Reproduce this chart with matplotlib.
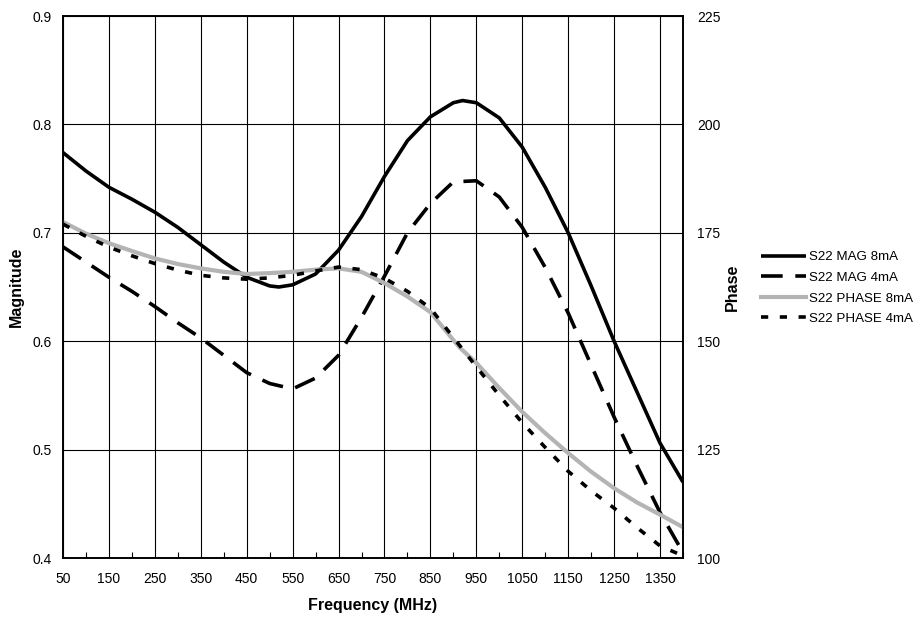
import matplotlib
matplotlib.use("Agg")
import matplotlib.pyplot as plt
from matplotlib.ticker import MultipleLocator

plt.rcParams['font.family'] = ['Liberation Sans', 'DejaVu Sans']

freq_mag8 = [50, 100, 150, 200, 250, 300, 350, 400, 450, 500, 520, 550, 600, 650, 700, 750, 800, 850, 900, 920, 950, 1000, 1050, 1100, 1150, 1200, 1250, 1300, 1350, 1400]
mag8 = [0.774, 0.757, 0.742, 0.731, 0.719, 0.705, 0.689, 0.673, 0.659, 0.651, 0.650, 0.652, 0.662, 0.684, 0.715, 0.752, 0.785, 0.807, 0.820, 0.822, 0.820, 0.806, 0.779, 0.742, 0.700, 0.651, 0.600, 0.553, 0.506, 0.470]

freq_mag4 = [50, 100, 150, 200, 250, 300, 350, 400, 450, 500, 550, 600, 650, 700, 750, 800, 850, 900, 950, 1000, 1050, 1100, 1150, 1200, 1250, 1300, 1350, 1400]
mag4 = [0.687, 0.673, 0.659, 0.646, 0.632, 0.617, 0.603, 0.587, 0.571, 0.561, 0.556, 0.566, 0.587, 0.622, 0.660, 0.700, 0.727, 0.747, 0.748, 0.733, 0.705, 0.668, 0.626, 0.578, 0.530, 0.485, 0.442, 0.405]

freq_ph8 = [50, 100, 150, 200, 250, 300, 350, 400, 450, 500, 550, 600, 650, 700, 750, 800, 850, 913, 950, 1000, 1050, 1100, 1150, 1200, 1250, 1300, 1350, 1400]
phase8 = [177.5, 174.8, 172.6, 170.8, 169.1, 167.8, 166.8, 166.0, 165.5, 165.7, 166.0, 166.5, 166.8, 166.0, 163.4, 160.3, 156.7, 148.6, 145.0, 139.2, 133.7, 128.8, 124.2, 119.9, 116.1, 112.8, 110.0, 107.1]

freq_ph4 = [50, 100, 150, 200, 250, 300, 350, 400, 450, 500, 550, 600, 650, 700, 750, 800, 850, 913, 950, 1000, 1050, 1100, 1150, 1200, 1250, 1300, 1350, 1400]
phase4 = [177.0, 174.2, 171.7, 169.7, 167.9, 166.4, 165.2, 164.6, 164.3, 164.6, 165.2, 166.2, 167.1, 166.5, 164.5, 161.5, 157.6, 149.1, 144.1, 137.5, 131.2, 125.5, 120.0, 115.5, 111.5, 107.0, 102.8, 100.5]

xticks = [50, 150, 250, 350, 450, 550, 650, 750, 850, 950, 1050, 1150, 1250, 1350]
labels = ["S22 MAG 8mA", "S22 MAG 4mA", "S22 PHASE 8mA", "S22 PHASE 4mA"]

fig = plt.figure(figsize=(9.21, 6.18), dpi=100)
ax = fig.add_axes([63/921, 1-558/618, 620/921, 542/618])
ax2 = ax.twinx()

ax.set_xlim(50, 1400)
ax.set_ylim(0.4, 0.9)
ax2.set_ylim(100, 225)
ax.set_xticks(xticks)
ax.xaxis.set_minor_locator(MultipleLocator(50))
ax.set_yticks([0.4, 0.5, 0.6, 0.7, 0.8, 0.9])
ax.set_yticklabels(["0.4", "0.5", "0.6", "0.7", "0.8", "0.9"])
ax2.set_yticks([100, 125, 150, 175, 200, 225])

ax.grid(True, which='major', color='black', linewidth=0.8)
ax.tick_params(axis='x', which='major', length=0, labelsize=10, pad=10)
ax.tick_params(axis='x', which='minor', length=4, direction='in', width=0.8)
ax.tick_params(axis='y', length=0, labelsize=10, pad=8)
ax2.tick_params(axis='y', length=0, labelsize=10, pad=10)

for a in (ax, ax2):
    for s in a.spines.values():
        s.set_linewidth(1.2)
        s.set_color('black')

l1, = ax.plot(freq_mag8, mag8, color='black', lw=2.6, solid_capstyle='butt')
l2, = ax.plot(freq_mag4, mag4, color='black', lw=2.6, dashes=(6, 3.5))
l3, = ax2.plot(freq_ph8, phase8, color='#b4b4b4', lw=3)
l4, = ax2.plot(freq_ph4, phase4, color='black', lw=2.6, dashes=(2, 3.2))

ax.set_xlabel("Frequency (MHz)", fontsize=11.5, fontweight='bold', labelpad=9)
ax.set_ylabel("Magnitude", fontsize=11.5, fontweight='bold')
ax.yaxis.set_label_coords((24 - 63) / 620, 0.5)
ax2.set_ylabel("Phase", fontsize=11.5, fontweight='bold')
ax2.yaxis.set_label_coords((725 - 63) / 620, 0.5)

fig.legend([l1, l2, l3, l4], labels, loc='upper left', bbox_to_anchor=(749/921, 1-239/618),
           frameon=False, fontsize=9.6, handlelength=3.4, handletextpad=0.2, labelspacing=0.62)

fig.savefig("out.png", dpi=100)
